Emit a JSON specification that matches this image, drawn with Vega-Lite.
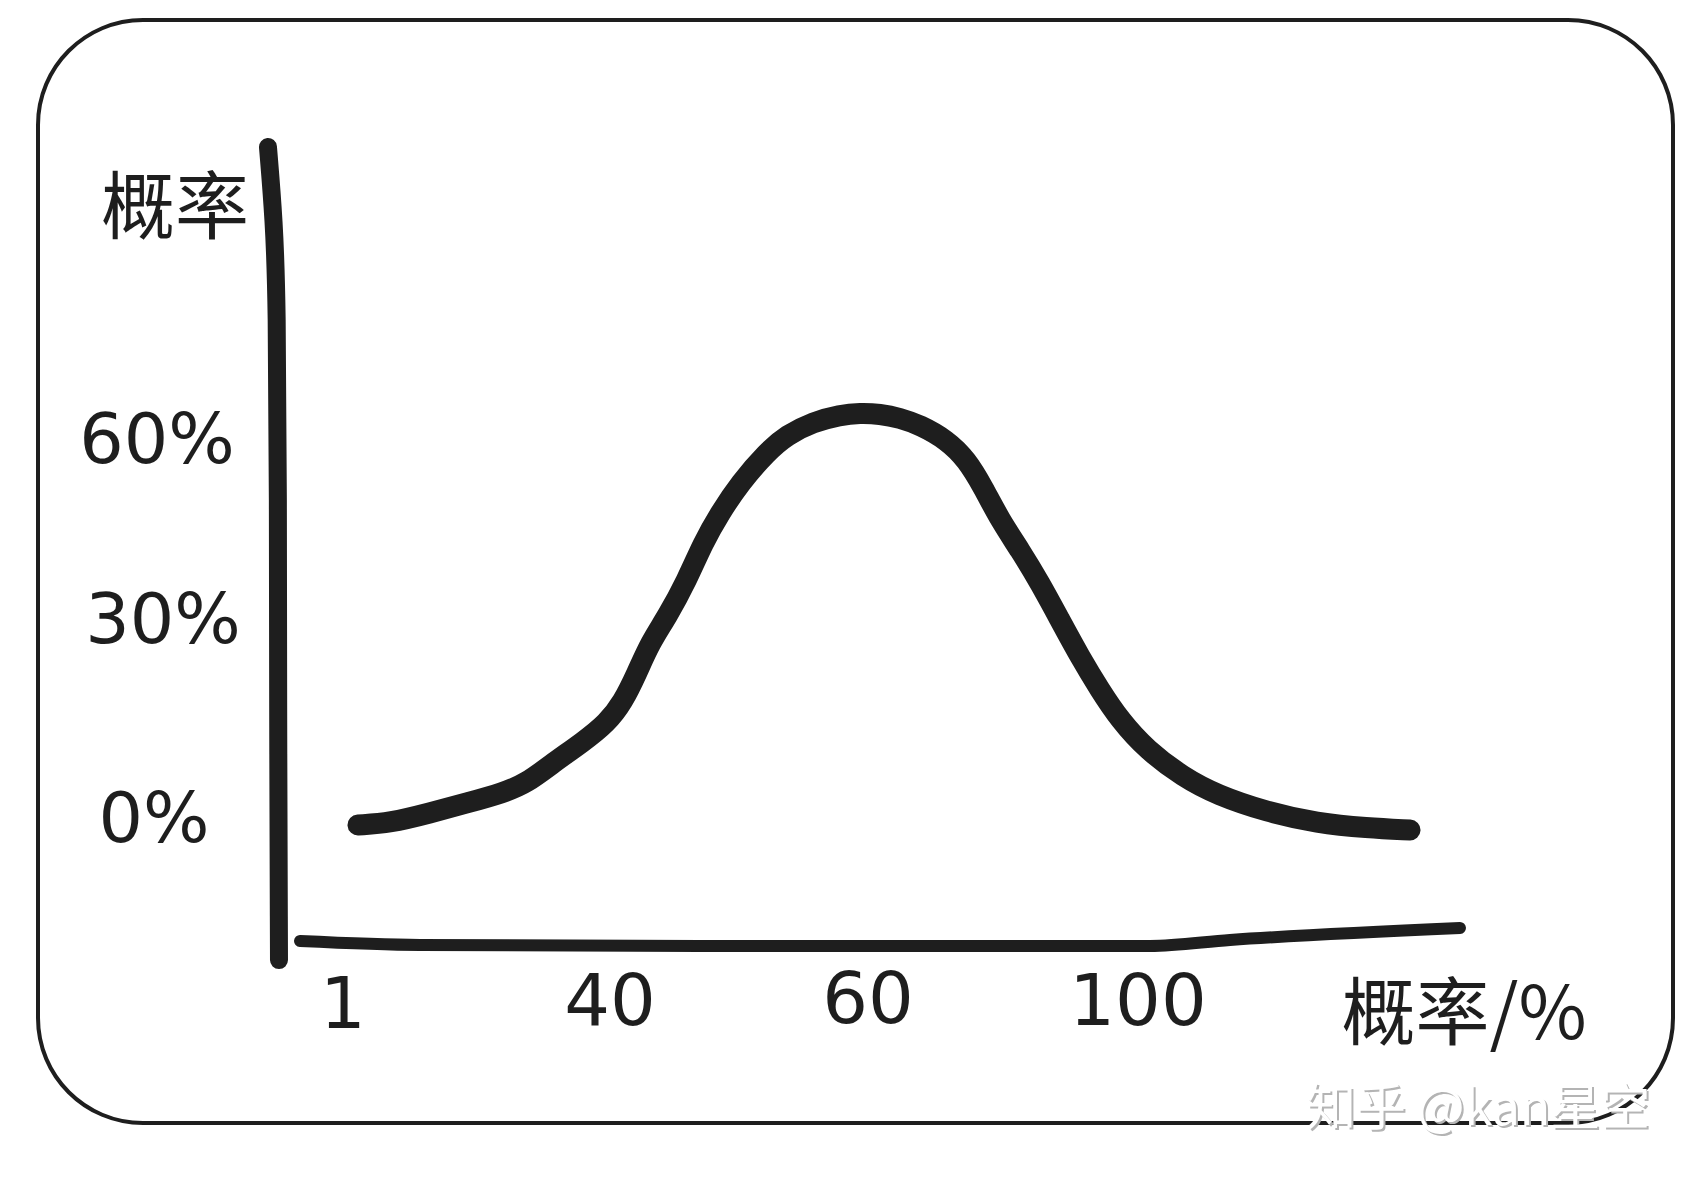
{
  "$schema": "https://vega.github.io/schema/vega-lite/v6.json",
  "width": 1635,
  "height": 1103,
  "padding": {"left": 38, "top": 20, "right": 25, "bottom": 58},
  "autosize": {"type": "none"},
  "background": "white",
  "view": {"stroke": "#1e1e1e", "strokeWidth": 4, "cornerRadius": 105, "fill": "white"},
  "datasets": {
    "curve": [
      {"i": 0, "x": 3.19, "y": -1.07},
      {"i": 1, "x": 7.87, "y": -0.77},
      {"i": 2, "x": 13.71, "y": 0.77},
      {"i": 3, "x": 19.11, "y": 2.3},
      {"i": 4, "x": 24.37, "y": 3.83},
      {"i": 5, "x": 27.88, "y": 5.36},
      {"i": 6, "x": 31.67, "y": 8.42},
      {"i": 7, "x": 36.06, "y": 11.63},
      {"i": 8, "x": 39.56, "y": 14.54},
      {"i": 9, "x": 41.01, "y": 17.76},
      {"i": 10, "x": 42.09, "y": 22.19},
      {"i": 11, "x": 43.1, "y": 26.79},
      {"i": 12, "x": 44.42, "y": 30.83},
      {"i": 13, "x": 45.97, "y": 37.0},
      {"i": 14, "x": 47.21, "y": 43.17},
      {"i": 15, "x": 48.53, "y": 48.17},
      {"i": 16, "x": 50.08, "y": 53.17},
      {"i": 17, "x": 52.17, "y": 58.33},
      {"i": 18, "x": 53.72, "y": 61.17},
      {"i": 19, "x": 55.74, "y": 63.33},
      {"i": 20, "x": 57.83, "y": 64.5},
      {"i": 21, "x": 59.38, "y": 64.83},
      {"i": 22, "x": 61.78, "y": 64.67},
      {"i": 23, "x": 64.74, "y": 64.0},
      {"i": 24, "x": 67.7, "y": 62.83},
      {"i": 25, "x": 71.7, "y": 60.33},
      {"i": 26, "x": 74.67, "y": 57.0},
      {"i": 27, "x": 77.04, "y": 52.5},
      {"i": 28, "x": 79.56, "y": 47.0},
      {"i": 29, "x": 82.52, "y": 42.0},
      {"i": 30, "x": 85.48, "y": 36.5},
      {"i": 31, "x": 88.44, "y": 30.33},
      {"i": 32, "x": 91.41, "y": 24.64},
      {"i": 33, "x": 94.37, "y": 19.59},
      {"i": 34, "x": 97.33, "y": 15.0},
      {"i": 35, "x": 101.33, "y": 10.41},
      {"i": 36, "x": 106.67, "y": 6.28},
      {"i": 37, "x": 111.7, "y": 3.52},
      {"i": 38, "x": 119.11, "y": 0.92},
      {"i": 39, "x": 126.52, "y": -0.77},
      {"i": 40, "x": 133.93, "y": -1.53},
      {"i": 41, "x": 140.3, "y": -1.84}
    ],
    "yaxis": [
      {"i": 0, "x": -9.96, "y": 109.17},
      {"i": 1, "x": -9.08, "y": 97},
      {"i": 2, "x": -8.64, "y": 83.67},
      {"i": 3, "x": -8.49, "y": 50.33},
      {"i": 4, "x": -8.49, "y": 18.06},
      {"i": 5, "x": -8.35, "y": -21.74}
    ],
    "xaxis": [
      {"i": 0, "x": -5.28, "y": -18.83},
      {"i": 1, "x": 12.25, "y": -19.44},
      {"i": 2, "x": 46.98, "y": -19.59},
      {"i": 3, "x": 101.78, "y": -19.59},
      {"i": 4, "x": 113.63, "y": -18.67},
      {"i": 5, "x": 147.7, "y": -16.84}
    ],
    "xticks": [
      {"x": 1, "y": -28.8, "label": "1"},
      {"x": 40, "y": -28.3, "label": "40"},
      {"x": 60, "y": -28.0, "label": "60"},
      {"x": 100, "y": -28.3, "label": "100"}
    ],
    "yticks": [
      {"x": -26.17, "y": 60, "label": "60%"},
      {"x": -25.29, "y": 30, "label": "30%"},
      {"x": -26.6, "y": -0.4, "label": "0%"}
    ],
    "titles": [
      {"x": -23.54, "y": 98.5, "label": "概率"},
      {"x": 148.3, "y": -30.5, "label": "概率/%"}
    ],
    "mark": [
      {"x": 150.4, "y": -44.7, "label": "知乎 @kan星空"}
    ]
  },
  "encoding": {
    "x": {"field": "x", "type": "quantitative", "axis": null,
          "scale": {"domain": [1, 40, 60, 100], "range": [305, 572, 830, 1100], "zero": false, "nice": false}},
    "y": {"field": "y", "type": "quantitative", "axis": null,
          "scale": {"domain": [0, 30, 60], "range": [798, 602, 422], "zero": false, "nice": false}}
  },
  "layer": [
    {
      "data": {"name": "yaxis"},
      "mark": {"type": "line", "color": "#1e1e1e", "strokeWidth": 18, "strokeCap": "round", "strokeJoin": "round", "interpolate": "basis"},
      "encoding": {"order": {"field": "i", "type": "quantitative"}}
    },
    {
      "data": {"name": "xaxis"},
      "mark": {"type": "line", "color": "#1e1e1e", "strokeWidth": 12, "strokeCap": "round", "strokeJoin": "round", "interpolate": "monotone"},
      "encoding": {"order": {"field": "i", "type": "quantitative"}}
    },
    {
      "data": {"name": "curve"},
      "mark": {"type": "line", "color": "#1e1e1e", "strokeWidth": 21, "strokeCap": "round", "strokeJoin": "round", "interpolate": "basis"},
      "encoding": {"order": {"field": "i", "type": "quantitative"}}
    },
    {
      "data": {"name": "xticks"},
      "mark": {"type": "text", "font": "DejaVu Sans", "fontSize": 72, "color": "#1e1e1e", "align": "center", "baseline": "middle"},
      "encoding": {"text": {"field": "label", "type": "nominal"}}
    },
    {
      "data": {"name": "yticks"},
      "mark": {"type": "text", "font": "DejaVu Sans", "fontSize": 70, "color": "#1e1e1e", "align": "center", "baseline": "middle"},
      "encoding": {"text": {"field": "label", "type": "nominal"}}
    },
    {
      "data": {"name": "titles"},
      "mark": {"type": "text", "font": "Noto Sans CJK SC", "fontSize": 74, "color": "#1e1e1e", "align": "center", "baseline": "middle"},
      "encoding": {"text": {"field": "label", "type": "nominal"}}
    },
    {
      "data": {"name": "mark"},
      "mark": {"type": "text", "font": "Noto Sans CJK SC", "fontSize": 50, "color": "#b4b4b4", "align": "center", "baseline": "middle", "dx": 2, "dy": 2},
      "encoding": {"text": {"field": "label", "type": "nominal"}}
    },
    {
      "data": {"name": "mark"},
      "mark": {"type": "text", "font": "Noto Sans CJK SC", "fontSize": 50, "color": "#ffffff", "align": "center", "baseline": "middle"},
      "encoding": {"text": {"field": "label", "type": "nominal"}}
    }
  ]
}
